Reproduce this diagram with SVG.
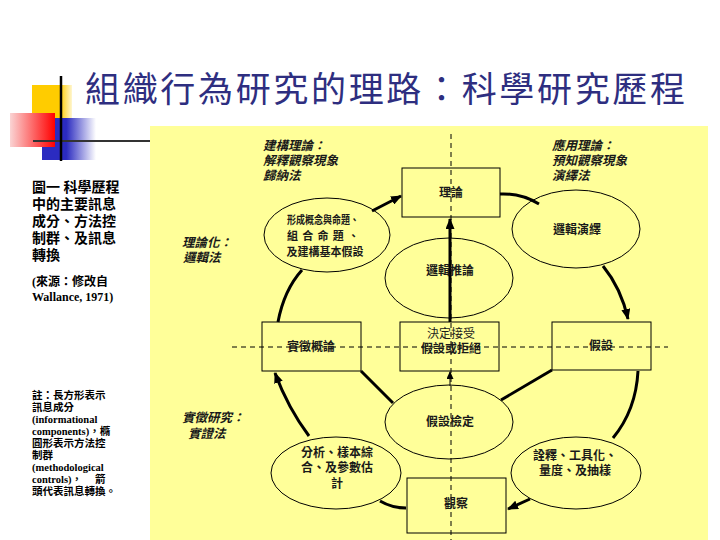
<svg xmlns="http://www.w3.org/2000/svg" width="720" height="540" viewBox="0 0 720 540">
<defs>
<linearGradient id="gy" x1="0" x2="1" y1="0" y2="0"><stop offset="0" stop-color="#FFCC00"/><stop offset="0.7" stop-color="#FFCC00"/><stop offset="1" stop-color="#FFF6D0"/></linearGradient>
<linearGradient id="gr" x1="0" x2="1" y1="0" y2="0"><stop offset="0" stop-color="#FAD4D4"/><stop offset="1" stop-color="#FF0000"/></linearGradient>
<linearGradient id="gb" x1="0" x2="1" y1="0" y2="0"><stop offset="0" stop-color="#2B2BC0"/><stop offset="0.45" stop-color="#2B2BC0"/><stop offset="1" stop-color="#FFFFFF"/></linearGradient>
<marker id="ah" markerWidth="11" markerHeight="9" refX="10" refY="4.5" orient="auto" markerUnits="userSpaceOnUse"><path d="M0,0 L11,4.5 L0,9 z" fill="#000"/></marker>
<marker id="ahs" markerWidth="8" markerHeight="7" refX="7" refY="3.5" orient="auto" markerUnits="userSpaceOnUse"><path d="M0,0 L8,3.5 L0,7 z" fill="#000"/></marker>
<style>
.box{fill:none;stroke:#000;stroke-width:1}
.ell{fill:none;stroke:#000;stroke-width:1}
.c{fill:none;stroke:#000;stroke-width:3}
.d{fill:none;stroke:#000;stroke-width:1;stroke-dasharray:5 4}
.t{font-family:"Liberation Sans","Noto Sans CJK TC","Noto Sans CJK SC",sans-serif;font-weight:bold;font-size:12px;fill:#1a1a1a;text-anchor:middle}
.tn{font-weight:normal}
.it{font-family:"Liberation Sans","Noto Sans CJK TC","Noto Sans CJK SC",sans-serif;font-weight:bold;font-style:italic;font-size:12.5px;fill:#1a1a1a}
.lf{font-family:"Liberation Serif","Noto Sans CJK TC",serif;font-weight:bold;font-size:14px;fill:#000}
.ls{font-family:"Liberation Serif","Noto Sans CJK TC",serif;font-weight:bold;font-size:12px;fill:#000}
.ln{font-family:"Liberation Serif","Noto Sans CJK TC",serif;font-weight:bold;font-size:10.5px;fill:#000}
.title{font-family:"Noto Sans CJK TC","Noto Sans CJK SC",sans-serif;font-size:35px;fill:#2E2E80}
</style>
</defs>
<rect width="720" height="540" fill="#FFFFFF"/>
<g id="decor">
<rect x="32" y="85" width="40" height="33" fill="url(#gy)"/>
<rect x="42" y="118" width="54" height="42" fill="url(#gb)"/>
<rect x="10" y="113" width="45" height="34" fill="url(#gr)"/>
<line x1="33" y1="141" x2="152" y2="141" stroke="#333" stroke-width="2"/>
<line x1="61" y1="76" x2="61" y2="161" stroke="#000" stroke-width="2.5"/>
</g>
<rect id="panel" x="150" y="126" width="558" height="414" fill="#FFFF99"/>
<text class="title" x="85" y="102" textLength="600" lengthAdjust="spacing">組織行為研究的理路：科學研究歷程</text>
<g id="caption">
<text class="lf" x="32" y="192">圖一  科學歷程</text>
<text class="lf" x="32" y="209">中的主要訊息</text>
<text class="lf" x="32" y="226">成分、方法控</text>
<text class="lf" x="32" y="243">制群、及訊息</text>
<text class="lf" x="32" y="260">轉換</text>
<text class="ls" x="32" y="286">(來源：修改自</text>
<text class="ls" x="32" y="301">Wallance, 1971)</text>
</g>
<g id="note">
<text class="ln" x="32" y="399">註：長方形表示</text>
<text class="ln" x="32" y="411">訊息成分</text>
<text class="ln" x="32" y="423">(informational</text>
<text class="ln" x="32" y="435">components)，橢</text>
<text class="ln" x="32" y="447">圓形表示方法控</text>
<text class="ln" x="32" y="459">制群</text>
<text class="ln" x="32" y="471">(methodological</text>
<text class="ln" x="32" y="483">controls)，</text>
<text class="ln" x="95" y="483">箭</text>
<text class="ln" x="32" y="495">頭代表訊息轉換。</text>
</g>
<g id="guides">
<line class="d" x1="451" y1="134" x2="451" y2="540"/>
<line class="d" x1="232" y1="347" x2="668" y2="347"/>
</g>
<g id="labels">
<text class="it" x="263" y="150">建構理論：</text>
<text class="it" x="263" y="165">解釋觀察現象</text>
<text class="it" x="263" y="180">歸納法</text>
<text class="it" x="552" y="150">應用理論：</text>
<text class="it" x="552" y="165">預知觀察現象</text>
<text class="it" x="552" y="180">演繹法</text>
<text class="it" x="182" y="247">理論化：</text>
<text class="it" x="183" y="262">邏輯法</text>
<text class="it" x="182" y="422">實徵研究：</text>
<text class="it" x="188" y="438">實證法</text>
</g>
<g id="connectors">
<line class="c" x1="372" y1="211" x2="401" y2="196" marker-end="url(#ah)"/>
<path class="c" d="M500,194 Q521,193 539,204"/>
<path class="c" d="M603,266 Q621,288 628,319" marker-end="url(#ah)"/>
<path class="c" d="M638,371 Q636,410 613,438"/>
<line class="c" x1="530" y1="499" x2="508" y2="509" marker-end="url(#ah)"/>
<path class="c" d="M406,508 Q392,508 380,501"/>
<path class="c" d="M309,436 Q288,408 275,373" marker-end="url(#ah)"/>
<path class="c" d="M278,322 Q284,290 302,270"/>
<line class="c" x1="361" y1="371" x2="393" y2="403"/>
<line class="c" x1="552" y1="370" x2="501" y2="400"/>
<line class="c" x1="450" y1="322" x2="450" y2="219" marker-end="url(#ah)"/>
<line x1="450" y1="386" x2="450" y2="372" stroke="#000" stroke-width="1" marker-end="url(#ahs)"/>
</g>
<g id="n-theory"><rect class="box" x="402" y="168" width="98" height="49"/><text class="t" x="451" y="197">理論</text></g>
<g id="n-concept"><ellipse class="ell" cx="327" cy="235" rx="63" ry="37"/>
<text class="t" x="323" y="224" style="font-size:11px" textLength="72" lengthAdjust="spacingAndGlyphs">形成概念與命題、</text>
<text class="t" x="323" y="240" style="font-size:11px" textLength="72" lengthAdjust="spacing">組合命題、</text>
<text class="t" x="325" y="256" style="font-size:11px">及建構基本假設</text></g>
<g id="n-deduce"><ellipse class="ell" cx="576" cy="229" rx="64" ry="39"/><text class="t" x="577" y="234">邏輯演繹</text></g>
<g id="n-infer"><ellipse class="ell" cx="449" cy="278" rx="64" ry="40"/><text class="t" x="450" y="275">邏輯推論</text></g>
<g id="n-general"><rect class="box" x="262" y="322" width="99" height="49"/><text class="t" x="311" y="351">實徵概論</text></g>
<g id="n-decide"><rect class="box" x="400" y="322" width="99" height="49"/><text class="t tn" x="451" y="338">決定接受</text><text class="t" x="451" y="353">假設或拒絕</text></g>
<g id="n-hypo"><rect class="box" x="552" y="322" width="99" height="48"/><text class="t" x="601" y="350">假設</text></g>
<g id="n-test"><ellipse class="ell" cx="449" cy="422" rx="64" ry="37"/><text class="t" x="450" y="426">假設檢定</text></g>
<g id="n-analysis"><ellipse class="ell" cx="336" cy="473" rx="65" ry="36"/>
<text class="t" x="337" y="457">分析、樣本綜</text>
<text class="t" x="337" y="472">合、及參數估</text>
<text class="t" x="337" y="488">計</text></g>
<g id="n-observe"><rect class="box" x="407" y="478" width="99" height="55"/><text class="t" x="456" y="508">觀察</text></g>
<g id="n-interp"><ellipse class="ell" cx="576" cy="473" rx="65" ry="36"/>
<text class="t" x="575" y="460">詮釋、工具化、</text>
<text class="t" x="575" y="475">量度、及抽樣</text></g>
</svg>
